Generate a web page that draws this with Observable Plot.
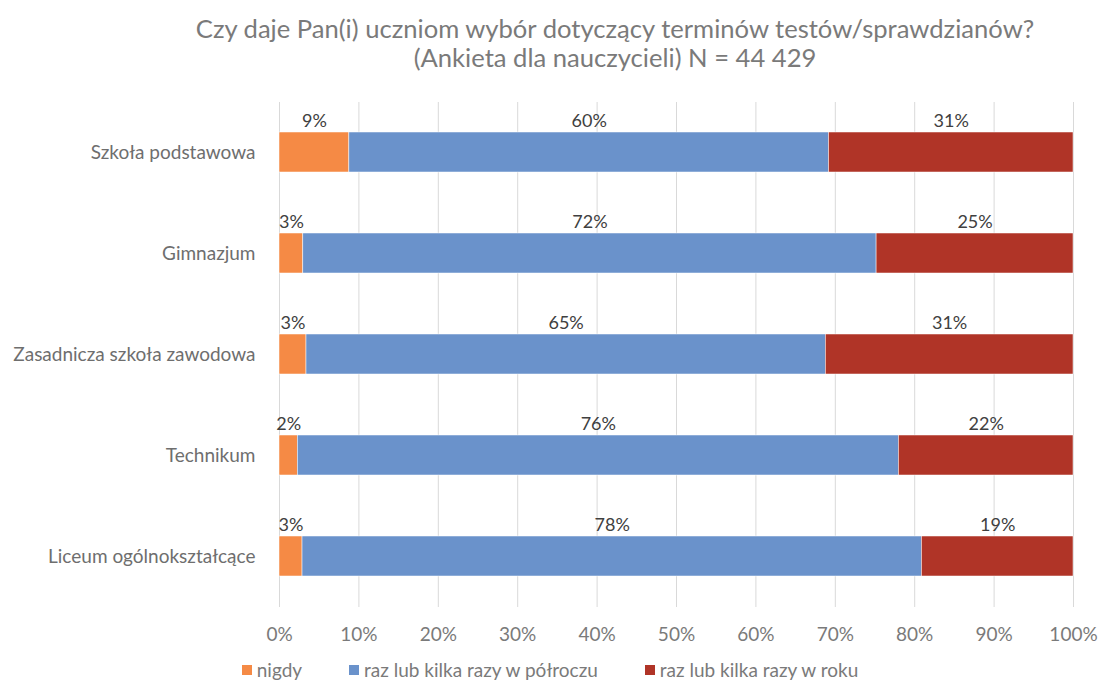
<!DOCTYPE html>
<html>
<head>
<meta charset="utf-8">
<script src="https://cdn.jsdelivr.net/npm/d3@7"></script>
<script src="https://cdn.jsdelivr.net/npm/@observablehq/plot@0.6"></script>
<style>
  body { margin: 0; background: #fff; width: 1100px; height: 680px; overflow: hidden; font-family: Lato, sans-serif; }
  #title { position: absolute; left: 130px; width: 970px; top: 14px; text-align: center; color: #7a7a7a; font-size: 25.6px; line-height: 29px; }
  #chart { position: absolute; left: 0; top: 82px; }
  #legend { position: absolute; left: 0; width: 1100px; top: 658px; display: flex; justify-content: center; gap: 47px; color: #7a7a7a; font-size: 19px; }
  .item { display: flex; align-items: center; }
  .sw { width: 10px; height: 10px; margin-right: 5px; }
</style>
</head>
<body>
<div id="title">Czy daje Pan(i) uczniom wybór dotyczący terminów testów/sprawdzianów?<br>(Ankieta dla nauczycieli) N = 44 429</div>
<div id="chart"></div>
<div id="legend"></div>
<script>
const categories = ["Szkoła podstawowa", "Gimnazjum", "Zasadnicza szkoła zawodowa", "Technikum", "Liceum ogólnokształcące"];
const seriesNames = ["nigdy", "raz lub kilka razy w półroczu", "raz lub kilka razy w roku"];
const nigdy = [8.8, 3.0, 3.4, 2.3, 2.9];
const polrocze = [60.4, 72.2, 65.4, 75.7, 78.0];
const rok = [30.8, 24.8, 31.2, 22.0, 19.1];
const colors = ["#F58A45", "#6A92CB", "#B03427"];
const xTicks = [0, 10, 20, 30, 40, 50, 60, 70, 80, 90, 100];

const series = [nigdy, polrocze, rok];
const data = [];
categories.forEach((c, i) => {
  seriesNames.forEach((s, j) => data.push({cat: c, series: s, value: series[j][i]}));
});

const chart = Plot.plot({
  width: 1100,
  height: 570,
  marginLeft: 279,
  marginRight: 27,
  marginTop: 20,
  marginBottom: 45,
  style: {fontFamily: "Lato, sans-serif", fontSize: "19px", color: "#7a7a7a", background: "#fff"},
  x: {domain: [0, 100], ticks: xTicks, tickFormat: d => d + "%", label: null},
  y: {domain: categories, paddingInner: 0.6, paddingOuter: 0.3, label: null},
  color: {domain: seriesNames, range: colors},
  marks: [
    Plot.gridX(xTicks, {stroke: "#d9d9d9", strokeOpacity: 1, strokeWidth: 1}),
    Plot.barX(data, Plot.stackX({x: "value", y: "cat", fill: "series", order: seriesNames, stroke: "#fff", strokeWidth: 0.5})),
    Plot.text(data, Plot.stackX({x: "value", y: "cat", z: "series", order: seriesNames, text: d => Math.round(d.value) + "%", dy: -31, fill: "#404040", fontSize: 18, fontFamily: "Lato, sans-serif"})),
    Plot.axisX({ticks: xTicks, tickFormat: d => d + "%", tickSize: 0, tickPadding: 20, fontSize: 19, fill: "#7a7a7a", fontFamily: "Lato, sans-serif"}),
    Plot.axisY({tickSize: 0, tickPadding: 24, fontSize: 19, fill: "#6e6e6e", fontFamily: "Lato, sans-serif"})
  ]
});
document.getElementById("chart").appendChild(chart);

const legend = document.getElementById("legend");
seriesNames.forEach((s, i) => {
  const it = document.createElement("div");
  it.className = "item";
  it.innerHTML = `<span class="sw" style="background:${colors[i]}"></span><span>${s}</span>`;
  legend.appendChild(it);
});
</script>
</body>
</html>
